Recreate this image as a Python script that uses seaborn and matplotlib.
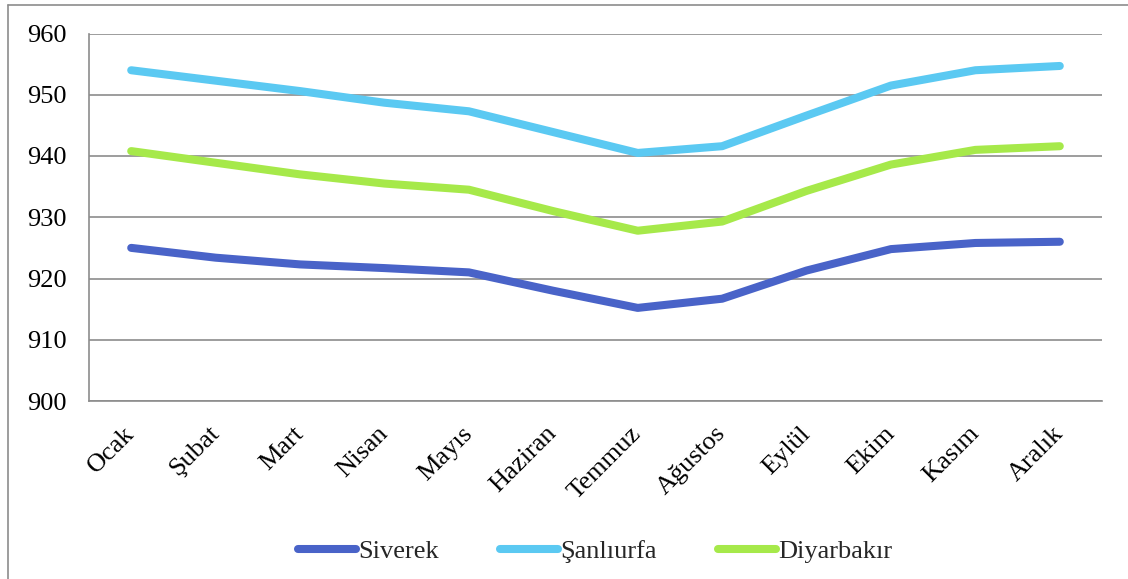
import matplotlib
matplotlib.use("Agg")
import matplotlib.pyplot as plt
from matplotlib.lines import Line2D
import seaborn as sns
import pandas as pd

sns.set_style("white")
plt.rcParams["font.family"] = ["Liberation Serif", "DejaVu Serif"]

# ---- data ----
months = ["Ocak", "Şubat", "Mart", "Nisan", "Mayıs", "Haziran",
          "Temmuz", "Ağustos", "Eylül", "Ekim", "Kasım", "Aralık"]
siverek = [925.0, 923.4, 922.3, 921.7, 921.0, 918.0,
           915.2, 916.7, 921.3, 924.8, 925.8, 926.0]
sanliurfa = [954.0, 952.3, 950.6, 948.7, 947.3, 943.9,
             940.5, 941.6, 946.6, 951.5, 954.0, 954.7]
diyarbakir = [940.8, 938.9, 937.0, 935.5, 934.5, 931.0,
              927.8, 929.3, 934.3, 938.6, 941.0, 941.6]

cities = ["Siverek", "Şanlıurfa", "Diyarbakır"]
colors = ["#4963C8", "#5BC9F2", "#A6E94A"]

df = pd.DataFrame({
    "ay": months * 3,
    "deger": siverek + sanliurfa + diyarbakir,
    "sehir": [c for c in cities for _ in months],
})
df["ay"] = pd.Categorical(df["ay"], categories=months, ordered=True)

GRID = "#8C8C8C"
LW = 5.8
FS = 19

# ---- figure ----
fig = plt.figure(figsize=(11.28, 5.79), dpi=100, facecolor="white")
ax = fig.add_axes([89 / 1128, 1 - 401 / 579, (1102 - 89) / 1128, (401 - 33.5) / 579])

sns.lineplot(data=df, x=df["ay"].cat.codes, y="deger", hue="sehir",
             hue_order=cities, palette=colors, linewidth=LW,
             solid_capstyle="round", sort=False, legend=False, ax=ax)

ax.set_xlim(-0.5, len(months) - 0.5)
ax.set_ylim(900, 960)
ax.set_yticks(range(900, 961, 10))
ax.set_xticks(range(len(months)))
ax.set_xticklabels(months, rotation=45, ha="right", va="center",
                   rotation_mode="anchor")
ax.tick_params(axis="both", length=0, labelsize=FS, colors="black")
ax.tick_params(axis="y", pad=16)
ax.tick_params(axis="x", pad=21)
ax.set_xlabel("")
ax.set_ylabel("")

ax.yaxis.grid(True, color=GRID, linewidth=1.2)
ax.xaxis.grid(False)
ax.set_axisbelow(True)
for side in ["top", "right"]:
    ax.spines[side].set_visible(False)
for side in ["left", "bottom"]:
    ax.spines[side].set_color(GRID)
    ax.spines[side].set_linewidth(1.2)

# ---- legend ----
handles = [Line2D([0], [0], color=c, linewidth=LW, solid_capstyle="round")
           for c in colors]
fig.legend(handles, cities, loc="center", bbox_to_anchor=(595 / 1128, 1 - 551 / 579),
           ncol=3, frameon=False, fontsize=FS, handlelength=2.2,
           handletextpad=0.1, columnspacing=2.3)

# ---- outer chart border (cut at right / bottom) ----
fig.add_artist(Line2D([8 / 1128, 8 / 1128], [0, 1 - 5 / 579],
                      transform=fig.transFigure, color=GRID, linewidth=1.2))
fig.add_artist(Line2D([8 / 1128, 1], [1 - 5 / 579, 1 - 5 / 579],
                      transform=fig.transFigure, color=GRID, linewidth=1.2))

fig.savefig("out.png", dpi=100, facecolor="white")
